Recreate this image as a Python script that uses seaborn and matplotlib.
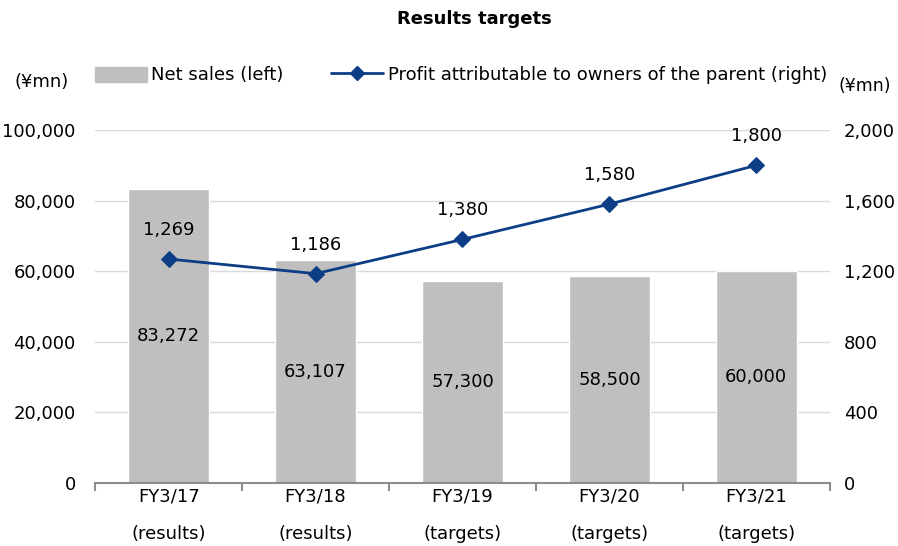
import numpy as np
import matplotlib
matplotlib.use("Agg")
import matplotlib.pyplot as plt
import seaborn as sns
from matplotlib.ticker import FuncFormatter, FixedLocator
from matplotlib.patches import Patch
from matplotlib.lines import Line2D

# data
categories = ["FY3/17\n(results)", "FY3/18\n(results)", "FY3/19\n(targets)",
              "FY3/20\n(targets)", "FY3/21\n(targets)"]
net_sales = [83272, 63107, 57300, 58500, 60000]
profit = [1269, 1186, 1380, 1580, 1800]

sns.set_style("white")
plt.rcParams["font.family"] = ["DejaVu Sans"]
plt.rcParams["text.color"] = "black"
plt.rcParams["xtick.color"] = "black"
plt.rcParams["ytick.color"] = "black"

bar_color = "#BFBFBF"
line_color = "#0D3E85"

fig = plt.figure(figsize=(8.98, 5.46), dpi=100)
ax = fig.add_axes([0.106, 0.1154, 0.818, 0.6465])

sns.barplot(x=categories, y=net_sales, color=bar_color, width=0.55,
            saturation=1, ax=ax, zorder=2)
ax.set_ylim(0, 100000)
ax.set_yticks(np.arange(0, 100001, 20000))
ax.yaxis.set_major_formatter(FuncFormatter(lambda v, p: f"{int(v):,}"))
ax.grid(axis="y", color="#D9D9D9", linewidth=1, zorder=0)
ax.set_axisbelow(True)
ax.set_xlim(-0.5, 4.5)

for s in ["top", "left", "right"]:
    ax.spines[s].set_visible(False)
ax.spines["bottom"].set_color("#8C8C8C")
ax.spines["bottom"].set_linewidth(1.5)
ax.set_xticks(range(len(categories)))
ax.set_xticklabels(categories, linespacing=2.4)
ax.tick_params(axis="x", which="major", length=0, pad=3, labelsize=13)
ax.tick_params(axis="y", length=0, labelsize=13, pad=14)
ax.xaxis.set_minor_locator(FixedLocator(np.arange(-0.5, 5, 1)))
ax.tick_params(axis="x", which="minor", bottom=True, length=6, width=1.5,
               color="#8C8C8C", direction="out")
ax.set_xlabel("")

for i, v in enumerate(net_sales):
    ax.text(i, v / 2, f"{v:,}", ha="center", va="center", fontsize=13)

ax2 = ax.twinx()
sns.lineplot(x=np.arange(len(profit)), y=profit, ax=ax2, color=line_color,
             marker="D", markersize=8, linewidth=2, markeredgecolor=line_color)
ax2.set_ylim(0, 2000)
ax2.set_yticks(np.arange(0, 2001, 400))
ax2.yaxis.set_major_formatter(FuncFormatter(lambda v, p: f"{int(v):,}"))
ax2.tick_params(axis="y", length=0, labelsize=13, pad=10)
for s in ax2.spines.values():
    s.set_visible(False)
ax2.grid(False)
for i, v in enumerate(profit):
    ax2.text(i, v + 165, f"{v:,}", ha="center", va="center", fontsize=13)

# title, units, legend
fig.text(0.528, 0.965, "Results targets", ha="center", va="center",
         fontsize=13, fontweight="bold")
fig.text(0.046, 0.85, "(¥mn)", ha="center", va="center", fontsize=13)
fig.text(0.963, 0.843, "(¥mn)", ha="center", va="center", fontsize=12.5)

handles = [Patch(color=bar_color, label="Net sales (left)"),
           Line2D([0], [0], color=line_color, marker="D", markersize=7,
                  linewidth=2, label="Profit attributable to owners of the parent (right)")]
fig.legend(handles=handles, loc="center", bbox_to_anchor=(0.513, 0.862),
           ncol=2, frameon=False, fontsize=13, handlelength=2.9,
           handleheight=0.9, handletextpad=0.25, columnspacing=2.6)

fig.savefig("out.png", dpi=100)
